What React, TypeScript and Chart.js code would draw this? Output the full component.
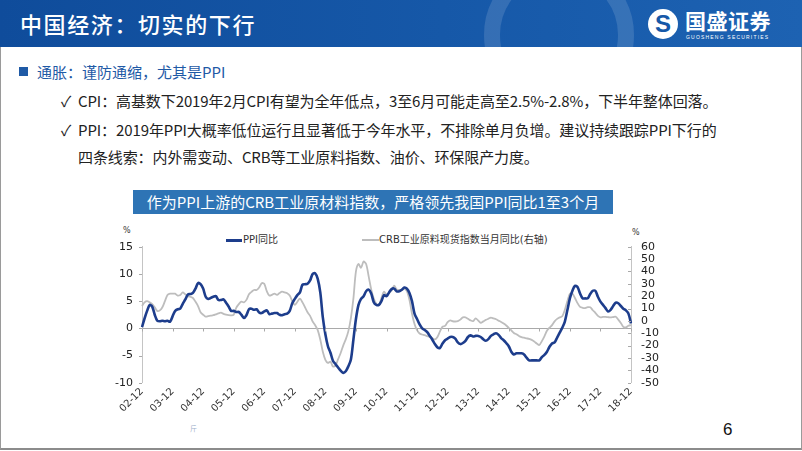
import React, { useEffect, useRef } from 'react';
import { Chart, registerables } from 'chart.js';

Chart.register(...registerables);

// ---- data ----
const monthLabels: string[] = [];
for (let i = 0; i < 193; i++) {
  const y = 2002 + Math.floor((11 + i) / 12);
  const m = ((11 + i) % 12) + 1;
  monthLabels.push(String(y % 100).padStart(2, '0') + '-' + String(m).padStart(2, '0'));
}

const ppiYoY = [
  0.2,
  1.8, 3.2, 4.3, 4.0, 2.5, 1.4, 1.3, 1.4, 1.3, 1.4, 1.2, 2.2,
  3.2, 3.5, 3.6, 4.5, 5.3, 6.2, 6.3, 6.5, 7.3, 8.3, 8.1, 7.3,
  5.8, 5.4, 5.6, 5.8, 5.9, 5.2, 5.2, 5.3, 4.7, 4.0, 3.2, 3.2,
  3.0, 3.0, 2.5, 1.9, 2.4, 3.5, 3.6, 3.4, 3.5, 2.9, 2.8, 3.1,
  3.3, 2.6, 2.7, 2.8, 2.8, 2.5, 2.4, 2.6, 2.7, 3.2, 4.6, 5.4,
  6.1, 6.6, 8.0, 8.1, 8.2, 8.8, 10.0, 10.1, 9.1, 6.6, 2.0, -1.1,
  -3.3, -4.5, -6.0, -6.6, -7.2, -7.8, -8.2, -7.9, -7.0, -5.8, -2.1, 1.7,
  4.3, 5.4, 5.9, 6.8, 7.1, 6.4, 4.8, 4.3, 4.3, 5.0, 6.1, 5.9,
  6.6, 7.2, 7.3, 6.8, 6.8, 7.1, 7.5, 7.3, 6.5, 5.0, 2.7, 1.7,
  0.7, 0.0, -0.3, -0.7, -1.4, -2.1, -2.9, -3.5, -3.6, -2.8, -2.2, -1.9,
  -1.6, -1.6, -1.9, -2.6, -2.9, -2.7, -2.3, -1.6, -1.3, -1.5, -1.4, -1.4,
  -1.6, -2.0, -2.3, -2.0, -1.4, -1.1, -0.9, -1.2, -1.8, -2.2, -2.7, -3.3,
  -4.3, -4.8, -4.6, -4.6, -4.6, -4.8, -5.4, -5.9, -5.9, -5.9, -5.9, -5.9,
  -5.3, -4.9, -4.3, -3.4, -2.8, -2.6, -1.7, -0.8, 0.1, 1.2, 3.3, 5.5,
  6.9, 7.8, 7.6, 6.4, 5.5, 5.5, 5.5, 6.3, 6.9, 6.9, 5.8, 4.9,
  4.3, 3.7, 3.1, 3.4, 4.1, 4.7, 4.6, 4.1, 3.6, 3.3, 2.7, 0.9,
];

const crbYoY = [
  12,
  15, 16, 15, 13.5, 11, 8, 8.5, 11, 16, 21, 22, 22,
  22, 20.5, 21, 23, 21.5, 20, 19.5, 18.5, 15.5, 12, 7, 5,
  3.4, 3.8, 4.2, 4.6, 5.3, 6, 6.6, 5.7, 5, 4.6, 4.5, 5,
  10.5, 13.5, 15.5, 15, 17, 21.5, 23.5, 25, 25, 27, 30.5, 30,
  24, 20.5, 21, 22, 21, 22.5, 23.6, 23, 22.4, 20.5, 16, 13,
  15.5, 18, 15, 11, 7, 4, -0.5, -3.5, -7.5, -15, -25, -31.5,
  -34, -33, -37, -36, -31, -26, -20, -15, -8.5, 2, 18, 40,
  46, 43, 48, 46, 36, 25.5, 18, 13.8, 12.8, 18.5, 23.5, 21.5,
  22.5, 24.5, 28.5, 25.5, 25, 25, 26, 24, 17, 6, -2.5, -7.5,
  -10.2, -11, -11.6, -12.3, -13, -14, -15, -13, -8.5, -4.7, -4.1, -1,
  0.4, -0.3, -0.5, -0.2, 1, 2.8, 2.8, 1.7, 0.4, -0.2, 2, 0.3,
  -1.6, -0.4, 0.8, 1.7, 2.7, 2, 1.3, 0.2, -0.9, -2.2, -3.7, -5.7,
  -7.6, -9.8, -10.8, -12.2, -13.1, -13.6, -14.1, -14.6, -15.4, -16.7, -18.3, -19.5,
  -16.4, -12.5, -8, -5.5, -3.4, -0.4, 1.6, 2.8, 3.7, 8.8, 15.8, 22,
  22, 18.5, 14.4, 11.3, 10.6, 10.4, 11.1, 11, 8.6, 6.5, 4, 2.9,
  3.2, 3.3, 3, 2.8, 3.1, 3.4, 1, -1.7, -4.8, -5.3, -3.9, -3.4,
];

const seriesNames = ['PPI同比', 'CRB工业原料现货指数当月同比(右轴)'];
const leftAxisRange = [-10, 15, 5];
const rightAxisRange = [-50, 60, 10];

const BLUE = '#1d3d8c';
const GRAY = '#bdbdbd';
const AXIS = '#a9a9a9';
const FONT = '"DejaVu Sans", "Noto Sans CJK SC", sans-serif';
const CJK = '"Noto Sans CJK SC", "Liberation Sans", sans-serif';

const tickMarks = {
  id: 'tickMarks',
  afterDraw(chart: any) {
    const { ctx, scales } = chart;
    const x = scales.x, y = scales.y, y1 = scales.y1;
    ctx.save();
    ctx.strokeStyle = AXIS;
    ctx.lineWidth = 1;
    const y0 = Math.round(y.getPixelForValue(0)) + 0.5;
    for (let i = 0; i < monthLabels.length; i += 12) {
      const px = Math.round(x.getPixelForValue(i)) + 0.5;
      ctx.beginPath();
      ctx.moveTo(px, y0);
      ctx.lineTo(px, y0 + 3);
      ctx.stroke();
    }
    y.ticks.forEach((t: any) => {
      const py = Math.round(y.getPixelForValue(t.value)) + 0.5;
      ctx.beginPath();
      ctx.moveTo(y.right - 3, py);
      ctx.lineTo(y.right, py);
      ctx.stroke();
    });
    y1.ticks.forEach((t: any) => {
      const py = Math.round(y1.getPixelForValue(t.value)) + 0.5;
      ctx.beginPath();
      ctx.moveTo(y1.left, py);
      ctx.lineTo(y1.left - 3, py);
      ctx.stroke();
    });
    ctx.restore();
  },
};

function ChartBox() {
  const ref = useRef<HTMLCanvasElement | null>(null);
  useEffect(() => {
    if (!ref.current) return;
    const chart = new Chart(ref.current, {
      type: 'line',
      data: {
        labels: monthLabels,
        datasets: [
          {
            label: seriesNames[0],
            data: ppiYoY,
            borderColor: BLUE,
            backgroundColor: BLUE,
            borderWidth: 2.6,
            pointRadius: 0,
            tension: 0.3,
            yAxisID: 'y',
          },
          {
            label: seriesNames[1],
            data: crbYoY,
            borderColor: GRAY,
            backgroundColor: GRAY,
            borderWidth: 1.8,
            pointRadius: 0,
            tension: 0.3,
            yAxisID: 'y1',
          },
        ],
      },
      options: {
        responsive: false,
        animation: false,
        layout: { padding: { top: 20.7, bottom: 0, left: 0, right: 0 } },
        plugins: { legend: { display: false }, tooltip: { enabled: false } },
        scales: {
          x: {
            type: 'category',
            offset: false,
            grid: { display: false, drawTicks: false },
            border: { display: false },
            afterFit: (s: any) => { s.height = 35.3; },
            ticks: {
              autoSkip: false,
              minRotation: 45,
              maxRotation: 45,
              padding: 3,
              color: '#333',
              font: { family: FONT, size: 10 },
              callback: (_v: any, idx: number) => (idx % 12 === 0 ? monthLabels[idx] : ''),
            },
          },
          y: {
            position: 'left',
            min: leftAxisRange[0],
            max: leftAxisRange[1],
            afterFit: (s: any) => { s.width = 42; },
            grid: {
              drawTicks: false,
              color: (c: any) => (c.tick && c.tick.value === 0 ? AXIS : 'rgba(0,0,0,0)'),
            },
            border: { display: true, color: '#c4c4c4' },
            ticks: {
              stepSize: leftAxisRange[2],
              autoSkip: false,
              padding: 9,
              color: '#222',
              font: { family: FONT, size: 11 },
            },
          },
          y1: {
            position: 'right',
            min: rightAxisRange[0],
            max: rightAxisRange[1],
            afterFit: (s: any) => { s.width = 29; },
            grid: { drawTicks: false, drawOnChartArea: false },
            border: { display: true, color: '#c4c4c4' },
            ticks: {
              stepSize: rightAxisRange[2],
              autoSkip: false,
              padding: 10,
              color: '#222',
              font: { family: FONT, size: 11 },
            },
          },
        },
      },
      plugins: [tickMarks],
    } as any);
    return () => chart.destroy();
  }, []);
  return (
    <canvas
      ref={ref}
      width={560}
      height={192}
      style={{ position: 'absolute', left: 100, top: 226, width: 560, height: 192 }}
    />
  );
}

export default function App() {
  const abs = (s: any) => ({ position: 'absolute', ...s });
  const body = { color: '#222', fontSize: 15, lineHeight: '22px', fontFamily: CJK, whiteSpace: 'nowrap', letterSpacing: -0.1 };
  return (
    <div style={{ position: 'fixed', left: 0, top: 0, width: 802, height: 451, background: '#fff', overflow: 'hidden', fontFamily: CJK }}>
      {/* header */}
      <div style={abs({ left: 0, top: 0, width: 802, height: 47, background: 'linear-gradient(90deg, #0f4c9b 0%, #1658a8 55%, #1d62b2 100%)', overflow: 'hidden' })}>
        <div style={abs({ left: 484, top: -40, width: 150, height: 150, borderRadius: '50%', border: '16px solid rgba(255,255,255,0.13)', boxSizing: 'border-box' })} />
        <div style={abs({ left: 20, top: 6, color: '#fff', fontSize: 22, lineHeight: '34px', letterSpacing: 1.6, fontFamily: CJK, fontWeight: 500 })}>
          中国经济：切实的下行
        </div>
        <div style={abs({ left: 648, top: 9, width: 30, height: 30, borderRadius: '50%', background: '#fff', color: '#1658a8', fontWeight: 900, fontSize: 24, lineHeight: '30px', textAlign: 'center', fontFamily: '"Liberation Sans", sans-serif' })}>S</div>
        <div style={abs({ left: 685, top: 6, color: '#fff', fontSize: 21, lineHeight: '28px', fontWeight: 700, letterSpacing: 0.5, fontFamily: CJK })}>国盛证券</div>
        <div style={abs({ left: 686, top: 34, color: '#fff', fontSize: 5, lineHeight: '7px', letterSpacing: 1.2, fontFamily: '"Liberation Sans", sans-serif' })}>GUOSHENG SECURITIES</div>
      </div>
      {/* slide border */}
      <div style={abs({ left: 0, top: 47, width: 800, height: 401, borderLeft: '1px solid #9a9a9a', borderRight: '1px solid #9a9a9a', borderBottom: '2px solid #8c8c8c' })} />

      {/* bullets */}
      <div style={abs({ left: 19, top: 67, width: 9, height: 9, background: '#1f5aa6' })} />
      <div style={abs({ left: 37, top: 61, color: '#1f5aa6', fontSize: 15, lineHeight: '22px', fontFamily: CJK })}>通胀：谨防通缩，尤其是PPI</div>

      <div style={abs({ left: 61, top: 90, ...body })}>✓</div>
      <div style={abs({ left: 78, top: 90, ...body })}>
        CPI：高基数下2019年2月CPI有望为全年低点，3至6月可能走高至2.5%-2.8%，下半年整体回落。
      </div>
      <div style={abs({ left: 61, top: 119, ...body })}>✓</div>
      <div style={abs({ left: 78, top: 119, ...body })}>
        PPI：2019年PPI大概率低位运行且显著低于今年水平，不排除单月负增。建议持续跟踪PPI下行的
      </div>
      <div style={abs({ left: 78, top: 146, ...body })}>
        四条线索：内外需变动、CRB等工业原料指数、油价、环保限产力度。
      </div>

      {/* chart title */}
      <div style={abs({ left: 133, top: 190, width: 480, height: 24, background: '#2e74b5', color: '#fff', fontSize: 15, lineHeight: '24px', textAlign: 'center', fontFamily: CJK, whiteSpace: 'nowrap' })}>
        作为PPI上游的CRB工业原材料指数，严格领先我国PPI同比1至3个月
      </div>

      {/* legend */}
      <div style={abs({ left: 226, top: 239, width: 16, height: 2.5, background: BLUE })} />
      <div style={abs({ left: 243, top: 233, fontSize: 10, lineHeight: '14px', color: '#333', fontFamily: FONT, whiteSpace: 'nowrap' })}>{seriesNames[0]}</div>
      <div style={abs({ left: 362, top: 239, width: 17, height: 1.8, background: GRAY })} />
      <div style={abs({ left: 379, top: 233, fontSize: 10, lineHeight: '14px', color: '#333', fontFamily: FONT, whiteSpace: 'nowrap' })}>{seriesNames[1]}</div>

      {/* axis units */}
      <div style={abs({ left: 123, top: 226, fontSize: 8, lineHeight: '10px', color: '#333', fontFamily: FONT })}>%</div>
      <div style={abs({ left: 632, top: 228, fontSize: 8, lineHeight: '10px', color: '#333', fontFamily: FONT })}>%</div>

      <ChartBox />

      {/* footer */}
      <div style={abs({ left: 190, top: 423, fontSize: 7, lineHeight: '10px', color: '#9fb3cc', fontFamily: CJK })}>斤</div>
      <div style={abs({ left: 723, top: 419, fontSize: 17, lineHeight: '22px', color: '#111', fontFamily: '"Liberation Sans", sans-serif' })}>6</div>
    </div>
  );
}
